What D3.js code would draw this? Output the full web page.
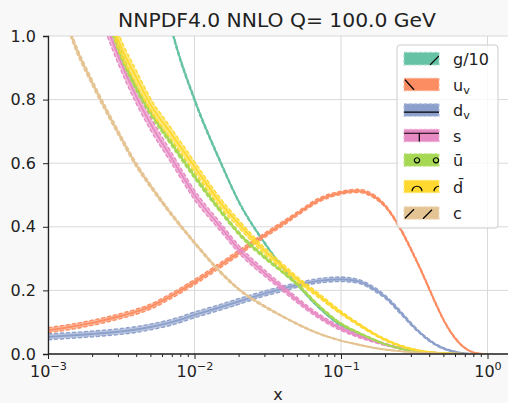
<!DOCTYPE html>
<html>
<head>
<meta charset="utf-8">
<script src="https://cdn.jsdelivr.net/npm/d3@7"></script>
<style>
  body { margin: 0; background: #f8f8f8; }
  text { font-family: "DejaVu Sans", sans-serif; fill: #222; }
</style>
</head>
<body>
<div id="chart"></div>
<script>
// x grid shared by every flavour
var xs = [0.001, 0.0015, 0.002, 0.003, 0.004, 0.005, 0.007, 0.01, 0.015, 0.02, 0.03, 0.04, 0.05, 0.07,
          0.1, 0.13, 0.17, 0.2, 0.25, 0.3, 0.35, 0.4, 0.45, 0.5, 0.6, 0.7, 0.8, 0.9, 1.0];

// central values
var g10  = [4.5, 3.4, 2.7, 2.0, 1.6, 1.35, 1.02, 0.80, 0.605, 0.48, 0.35, 0.272, 0.22, 0.148, 0.09, 0.065, 0.042, 0.031, 0.018, 0.011, 0.007, 0.0045, 0.0028, 0.0018, 0.0007, 0.0002, 0.0001, 0, 0];
var uv   = [0.075, 0.087, 0.098, 0.117, 0.133, 0.149, 0.184, 0.226, 0.279, 0.318, 0.373, 0.41, 0.44, 0.483, 0.507, 0.513, 0.494, 0.466, 0.40, 0.33, 0.265, 0.205, 0.152, 0.108, 0.05, 0.019, 0.005, 0.001, 0];
var dv   = [0.054, 0.059, 0.063, 0.07, 0.077, 0.085, 0.1, 0.123, 0.147, 0.165, 0.19, 0.205, 0.217, 0.23, 0.235, 0.229, 0.203, 0.18, 0.135, 0.095, 0.065, 0.043, 0.028, 0.018, 0.007, 0.002, 0.0005, 0, 0];
var s    = [1.75, 1.38, 1.17, 0.94, 0.81, 0.725, 0.615, 0.5, 0.4, 0.33, 0.255, 0.207, 0.17, 0.12, 0.08, 0.058, 0.04, 0.03, 0.019, 0.012, 0.008, 0.005, 0.0035, 0.0022, 0.001, 0.0003, 0.0001, 0, 0];
var ubar = [1.85, 1.47, 1.24, 0.966, 0.838, 0.76, 0.661, 0.559, 0.451, 0.38, 0.305, 0.258, 0.22, 0.153, 0.095, 0.068, 0.044, 0.031, 0.018, 0.011, 0.007, 0.0045, 0.003, 0.002, 0.0008, 0.0003, 0.0001, 0, 0];
var dbar = [1.95, 1.54, 1.3, 0.99, 0.87, 0.785, 0.69, 0.589, 0.476, 0.41, 0.325, 0.275, 0.236, 0.185, 0.13, 0.095, 0.062, 0.045, 0.027, 0.016, 0.01, 0.006, 0.004, 0.0025, 0.001, 0.0003, 0.0001, 0, 0];
var c    = [1.25, 0.98, 0.854, 0.698, 0.595, 0.529, 0.438, 0.35, 0.258, 0.204, 0.15, 0.118, 0.095, 0.065, 0.042, 0.03, 0.019, 0.014, 0.009, 0.006, 0.004, 0.0025, 0.0016, 0.001, 0.0004, 0.0001, 0, 0, 0];

// half widths of the uncertainty bands
var g10Err  = [0.05, 0.03, 0.02, 0.012, 0.01, 0.008, 0.006, 0.005, 0.004, 0.003, 0.003, 0.002, 0.002, 0.0015, 0.001, 0.001, 0.001, 0.001, 0.0008, 0.0006, 0.0005, 0.0004, 0.0003, 0.0002, 0.0001, 0, 0, 0, 0];
var uvErr   = [0.008, 0.008, 0.008, 0.008, 0.008, 0.008, 0.008, 0.008, 0.008, 0.008, 0.007, 0.007, 0.006, 0.006, 0.005, 0.005, 0.005, 0.004, 0.004, 0.004, 0.003, 0.003, 0.003, 0.002, 0.002, 0.001, 0.0005, 0.0002, 0];
var dvErr   = [0.009, 0.009, 0.009, 0.009, 0.009, 0.009, 0.009, 0.009, 0.009, 0.009, 0.008, 0.008, 0.007, 0.007, 0.007, 0.006, 0.006, 0.005, 0.005, 0.004, 0.003, 0.003, 0.002, 0.002, 0.001, 0.0005, 0.0002, 0, 0];
var sErr    = [0.04, 0.035, 0.03, 0.025, 0.022, 0.02, 0.017, 0.015, 0.013, 0.012, 0.01, 0.009, 0.008, 0.007, 0.006, 0.005, 0.004, 0.003, 0.003, 0.002, 0.002, 0.001, 0.001, 0.001, 0.0005, 0.0002, 0, 0, 0];
var ubarErr = [0.02, 0.016, 0.014, 0.012, 0.01, 0.009, 0.008, 0.007, 0.006, 0.005, 0.005, 0.004, 0.004, 0.003, 0.003, 0.002, 0.002, 0.001, 0.001, 0.001, 0.0005, 0.0005, 0.0003, 0.0002, 0.0001, 0, 0, 0, 0];
var dbarErr = [0.04, 0.035, 0.03, 0.025, 0.022, 0.02, 0.018, 0.016, 0.014, 0.012, 0.01, 0.009, 0.008, 0.007, 0.005, 0.004, 0.003, 0.003, 0.002, 0.002, 0.001, 0.001, 0.001, 0.0005, 0.0002, 0, 0, 0, 0];
var cErr    = [0.012, 0.01, 0.009, 0.008, 0.007, 0.006, 0.005, 0.004, 0.004, 0.003, 0.003, 0.002, 0.002, 0.0015, 0.001, 0.001, 0.0008, 0.0006, 0.0004, 0.0003, 0.0002, 0.0001, 0, 0, 0, 0, 0, 0, 0];

var names  = ["g/10", "uv", "dv", "s", "ubar", "dbar", "c"];
var colors = ["#66c2a5", "#fc8d62", "#8da0cb", "#e78ac3", "#a6d854", "#ffd92f", "#e5c494"];
var yTicks = [0, 0.2, 0.4, 0.6, 0.8, 1.0];
var xTicks = [1e-3, 1e-2, 1e-1, 1];
var xExp   = ["\u22123", "\u22122", "\u22121", "0"];

var series = [
  {name: names[0], val: g10,  err: g10Err},
  {name: names[1], val: uv,   err: uvErr},
  {name: names[2], val: dv,   err: dvErr},
  {name: names[3], val: s,    err: sErr},
  {name: names[4], val: ubar, err: ubarErr},
  {name: names[5], val: dbar, err: dbarErr},
  {name: names[6], val: c,    err: cErr}
];

var svgWidth = 508, svgHeight = 403;
var margin = {top: 36, right: 0, bottom: 49, left: 48};
var width = svgWidth - margin.left - margin.right;
var height = svgHeight - margin.top - margin.bottom;

var svg = d3.select("#chart").append("svg")
  .attr("width", svgWidth)
  .attr("height", svgHeight);

svg.append("rect").attr("width", svgWidth).attr("height", svgHeight).attr("fill", "#f8f8f8");

var chartGroup = svg.append("g")
  .attr("transform", `translate(${margin.left}, ${margin.top})`);

chartGroup.append("rect").attr("width", width).attr("height", height).attr("fill", "white");

// log x: one decade = 146.5 px, axes runs past 10^0 to the window edge
var xScale = d3.scaleLog().domain([1e-3, 1]).range([0, 439.5]);
var yScale = d3.scaleLinear().domain([0, 1]).range([height, 0]);

// grid
chartGroup.selectAll(".hgrid").data(yTicks).enter().append("line")
  .attr("x1", 0).attr("x2", width)
  .attr("y1", d => yScale(d)).attr("y2", d => yScale(d))
  .attr("stroke", "#d9d9d9").attr("stroke-width", 1);
chartGroup.selectAll(".vgrid").data(xTicks).enter().append("line")
  .attr("x1", d => xScale(d)).attr("x2", d => xScale(d))
  .attr("y1", 0).attr("y2", height)
  .attr("stroke", "#d9d9d9").attr("stroke-width", 1);

svg.append("defs").append("clipPath").attr("id", "plotclip")
  .append("rect").attr("width", width).attr("height", height);

var plot = chartGroup.append("g").attr("clip-path", "url(#plotclip)");

series.forEach(function(sr, k) {
  var pts = xs.map((x, i) => ({x: x, v: sr.val[i], e: sr.err[i]}));
  var col = colors[k];
  var area = d3.area().x(d => xScale(d.x)).y0(d => yScale(d.v - d.e)).y1(d => yScale(d.v + d.e)).curve(d3.curveMonotoneX);
  var lineC = d3.line().x(d => xScale(d.x)).y(d => yScale(d.v)).curve(d3.curveMonotoneX);
  var lineLo = d3.line().x(d => xScale(d.x)).y(d => yScale(d.v - d.e)).curve(d3.curveMonotoneX);
  var lineHi = d3.line().x(d => xScale(d.x)).y(d => yScale(d.v + d.e)).curve(d3.curveMonotoneX);
  var grp = plot.append("g");
  grp.append("path").datum(pts).attr("d", area).attr("fill", col).attr("opacity", 0.6);
  grp.append("path").datum(pts).attr("d", lineLo).attr("fill", "none").attr("stroke", col)
    .attr("stroke-width", 1.4).attr("stroke-dasharray", "4,2");
  grp.append("path").datum(pts).attr("d", lineHi).attr("fill", "none").attr("stroke", col)
    .attr("stroke-width", 1.4).attr("stroke-dasharray", "4,2");
  grp.append("path").datum(pts).attr("d", lineC).attr("fill", "none").attr("stroke", col)
    .attr("stroke-width", 1.9);
});

// axes
var minor = [];
[1e-3, 1e-2, 1e-1].forEach(function(b) { for (var m = 2; m <= 9; m++) minor.push(b * m); });

var xMinorG = chartGroup.append("g").attr("transform", `translate(0, ${height})`)
  .call(d3.axisBottom(xScale).tickValues(minor).tickSize(3).tickFormat(""));
var xAxisG = chartGroup.append("g").attr("transform", `translate(0, ${height})`)
  .call(d3.axisBottom(xScale).tickValues(xTicks).tickSize(5).tickFormat(""));
xAxisG.select(".domain").attr("d", `M0,0H${width}`);
xMinorG.select(".domain").remove();

xAxisG.selectAll(".tick text").each(function(d, i) {
  var t = d3.select(this).attr("y", 23).attr("dy", 0).attr("font-size", 16).attr("fill", "#222");
  t.text("");
  t.append("tspan").text("10");
  t.append("tspan").attr("dy", -7).attr("font-size", 11.2).text(xExp[i]);
});

var yAxisG = chartGroup.append("g")
  .call(d3.axisLeft(yScale).tickValues(yTicks).tickSize(5).tickPadding(7).tickFormat(d3.format(".1f")));
yAxisG.selectAll("text").attr("font-size", 16).attr("fill", "#222");

[xAxisG, xMinorG, yAxisG].forEach(function(a) {
  a.selectAll("line").attr("stroke", "#222").attr("stroke-width", 1);
  a.selectAll(".domain").attr("stroke", "#222").attr("stroke-width", 1.3);
});

// title and x label
svg.append("text").attr("x", margin.left + width / 2 - 1).attr("y", 27)
  .attr("text-anchor", "middle").attr("font-size", 20.3)
  .text("NNPDF4.0 NNLO Q= 100.0 GeV");
svg.append("text").attr("x", margin.left + width / 2).attr("y", 400)
  .attr("text-anchor", "middle").attr("font-size", 16).text("x");

// legend
var legend = svg.append("g");
legend.append("rect").attr("x", 397).attr("y", 45).attr("width", 101).attr("height", 183)
  .attr("rx", 3).attr("fill", "white").attr("fill-opacity", 0.8)
  .attr("stroke", "#cccccc").attr("stroke-width", 1);

var rowY = [58.7, 84.5, 110, 135.5, 160, 186.5, 213];
var patchX = 404, patchW = 35, patchH = 12.5;

// hatch marks drawn inside each legend patch (relative to the patch corner)
var hatches = [
  "M26,12.5L35,3.5",
  "M1,1.5L10,11.5",
  "M0,8.3H35",
  "M0,4H35M15.3,4V12.5",
  "M13,4a2.6,2.6 0 1 0 0.01,0M32,4a2.6,2.6 0 1 0 0.01,0",
  "M8,11a5,5 0 0 1 10,0M30,11a5,5 0 0 1 10,0",
  "M1,11.5L10,2.5M19,12L28,3"
];

var labels = legend.selectAll(".entry").data(series).enter().append("g")
  .attr("transform", (d, i) => `translate(${patchX}, ${rowY[i] - patchH / 2})`);

svg.select("defs").append("clipPath").attr("id", "patchclip")
  .append("rect").attr("width", patchW).attr("height", patchH);

labels.append("rect").attr("width", patchW).attr("height", patchH)
  .attr("fill", (d, i) => colors[i])
  .attr("stroke", (d, i) => d3.interpolateRgb(colors[i], "white")(0.35))
  .attr("stroke-width", 1.2).attr("stroke-dasharray", "3,2");
labels.append("path").attr("d", (d, i) => hatches[i]).attr("fill", "none")
  .attr("stroke", "black").attr("stroke-width", 1.2).attr("clip-path", "url(#patchclip)");

labels.each(function(d, i) {
  var t = d3.select(this).append("text").attr("x", 49).attr("y", patchH / 2 + 6).attr("font-size", 16);
  if (d.name === "uv" || d.name === "dv") {
    t.append("tspan").text(d.name[0]);
    t.append("tspan").attr("font-size", 11.2).attr("dy", 3).text("v");
  } else if (d.name === "ubar") {
    t.text("\u016b");
  } else if (d.name === "dbar") {
    t.text("d\u0304");
  } else {
    t.text(d.name);
  }
});
</script>
</body>
</html>
